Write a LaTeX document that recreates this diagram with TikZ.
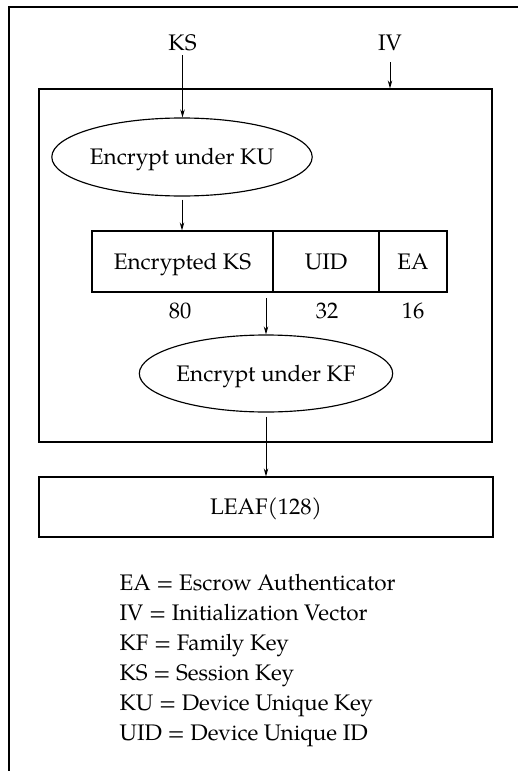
\documentclass[tikz,border=0pt]{standalone}
\usepackage{fontspec}
\setmainfont{TeX Gyre Pagella}
\usetikzlibrary{arrows.meta,shapes.geometric}
\begin{document}
\begin{tikzpicture}[x=1pt,y=-1pt, line width=1.15pt,
  every node/.style={font=\fontsize{22.5}{27}\selectfont, text height=15.5pt, text depth=0pt, inner sep=0pt},
  arr/.style={-{Stealth[length=8pt,width=4.5pt]}, line width=0.9pt},
  cell/.style={draw, minimum height=61pt},
  oval/.style={draw, ellipse, minimum width=212pt, minimum height=78pt},
  legend/.style={anchor=base west}]
\useasboundingbox (0,0) rectangle (518,771);
\draw (9,771) -- (9,7) -- (518,7);
\node (ks) at (182.5,43) {KS};
\node (iv) at (390,43) {IV};
\node[draw, minimum width=453pt, minimum height=353pt] (box) at (265.5,265.5) {};
\node[oval] (ku) at (182,157) {Encrypt under KU};
\node[cell, minimum width=181pt] (eks) at (182.5,261.5) {Encrypted KS};
\node[cell, minimum width=106pt] (uid) at (326,261.5) {UID};
\node[cell, minimum width=68pt] (ea) at (413,261.5) {EA};
\node (n80) at (180,311) {80};
\node (n32) at (327,311) {32};
\node (n16) at (413,311) {16};
\node[oval, minimum width=214pt, minimum height=77pt] (kf) at (266,373.5) {Encrypt under KF};
\node[draw, minimum width=454pt, minimum height=60pt] (leaf) at (266,507) {LEAF(128)};
\coordinate (split) at (266,298);
\draw[arr, shorten <=4pt] (ks.south) -- (ks.south |- ku.north);
\draw[arr, shorten <=11pt] (iv.south) -- (iv.south |- box.north);
\draw[arr, shorten <=3pt] (ku.south) -- (ku.south |- eks.north);
\draw[arr] (split) -- (kf.north);
\draw[arr, shorten <=4pt] (kf.south) -- (leaf.north);
\node[legend] (l1) at (119,590) {EA = Escrow Authenticator};
\node[legend] (l2) at (119,620) {IV = Initialization Vector};
\node[legend] (l3) at (119,650) {KF = Family Key};
\node[legend] (l4) at (119,680) {KS = Session Key};
\node[legend] (l5) at (119,710) {KU = Device Unique Key};
\node[legend] (l6) at (119,740) {UID = Device Unique ID};
\end{tikzpicture}
\end{document}
